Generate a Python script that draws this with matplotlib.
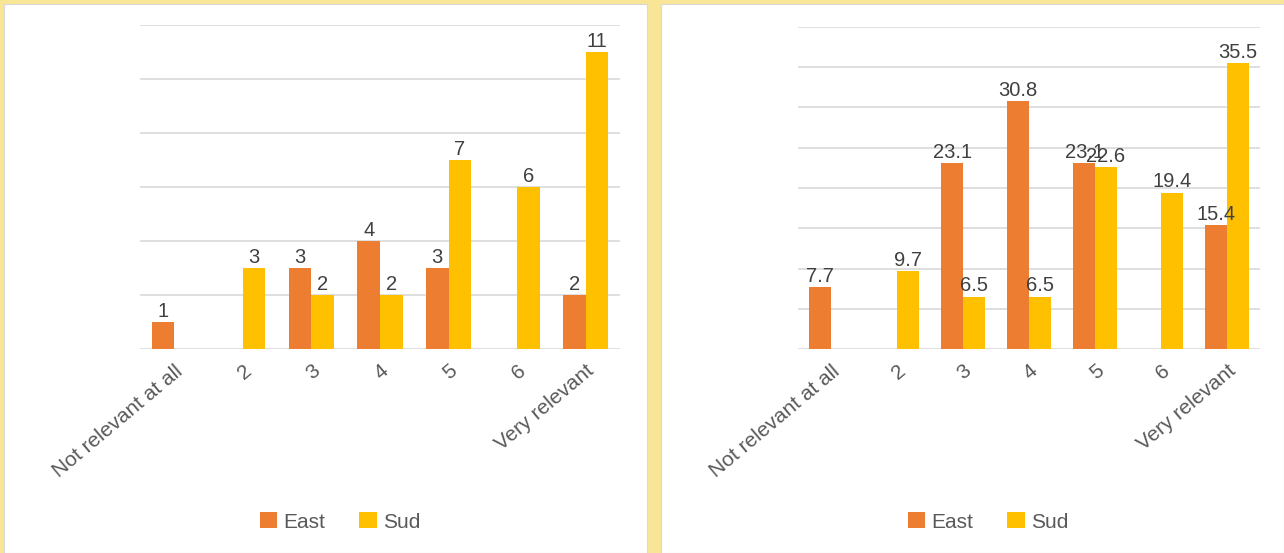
import matplotlib.pyplot as plt
from matplotlib.patches import Rectangle
import numpy as np

plt.rcParams['font.family'] = ['Liberation Sans', 'DejaVu Sans']

categories = ["Not relevant at all", "2", "3", "4", "5", "6", "Very relevant"]

# left chart: counts
east_count = [1, np.nan, 3, 4, 3, np.nan, 2]
sud_count = [np.nan, 3, 2, 2, 7, 6, 11]

# right chart: percentages
east_pct = [7.7, np.nan, 23.1, 30.8, 23.1, np.nan, 15.4]
sud_pct = [np.nan, 9.7, 6.5, 6.5, 22.6, 19.4, 35.5]

ORANGE = "#ED7D31"
GOLD = "#FFC000"
W, H = 1284, 553

fig = plt.figure(figsize=(W / 100, H / 100), dpi=100)
fig.patch.set_facecolor("#F8E595")

# white panels
for x0, x1 in [(4, 647), (661, 1284)]:
    fig.patches.append(Rectangle((x0 / W, 0), (x1 - x0) / W, (H - 4) / H,
                                 transform=fig.transFigure, facecolor="white",
                                 edgecolor="#D9D9D9", linewidth=0.8, zorder=-5))


def draw(rect, east, sud, ymax, step, legend_x):
    x0, x1, ytop = rect
    ax = fig.add_axes([x0 / W, (H - 349) / H, (x1 - x0) / W, (349 - ytop) / H])
    ax.set_facecolor("none")
    ax.set_zorder(2)
    x = np.arange(len(categories))
    bw = 0.33
    b1 = ax.bar(x - bw / 2, east, bw, color=ORANGE, label="East", zorder=3)
    b2 = ax.bar(x + bw / 2, sud, bw, color=GOLD, label="Sud", zorder=3)
    for bars, vals in [(b1, east), (b2, sud)]:
        labs = ["" if np.isnan(v) else f"{v:g}" for v in vals]
        ax.bar_label(bars, labels=labs, padding=1, fontsize=14.5, color="#404040")
    ax.set_xlim(-0.5, len(categories) - 0.5)
    ax.set_ylim(0, ymax)
    ax.set_yticks(np.arange(0, ymax + 0.1, step))
    ax.yaxis.grid(True, color="#D9D9D9", linewidth=1.2, zorder=0)
    ax.tick_params(axis="y", left=False, labelleft=False)
    ax.tick_params(axis="x", length=0, pad=9)
    ax.set_xticks(x)
    ax.set_xticklabels(categories, rotation=40, ha="right", rotation_mode="anchor",
                       fontsize=15, color="#595959")
    for s in ax.spines.values():
        s.set_visible(False)
    ax.legend(loc="center", bbox_to_anchor=(legend_x / W, (H - 522) / H),
              bbox_transform=fig.transFigure, ncol=2, frameon=False,
              fontsize=15, labelcolor="#595959", handlelength=0.85,
              handleheight=0.8, columnspacing=1.6, handletextpad=0.3)
    return ax


draw((140, 620, 25), east_count, sud_count, 12, 2, 340)
draw((798, 1260, 27), east_pct, sud_pct, 40, 5, 988)

fig.savefig("out.png", dpi=100, facecolor=fig.get_facecolor())
